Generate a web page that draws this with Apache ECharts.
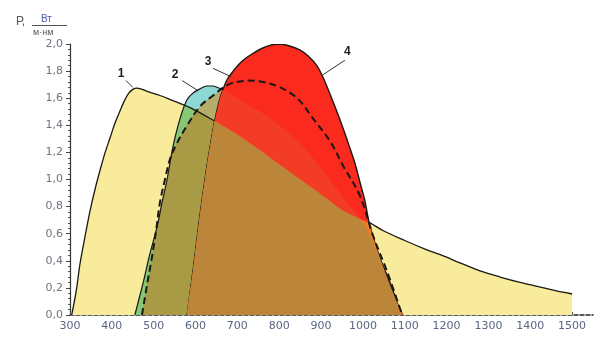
<!DOCTYPE html>
<html><head><meta charset="utf-8">
<script src="https://cdn.jsdelivr.net/npm/echarts@6/dist/echarts.min.js"></script>
<style>html,body{margin:0;padding:0;background:#fff}#c{width:608px;height:355px}</style>
</head><body><div id="c"></div>
<script>
// ---- data ----
const xTicks = [300,400,500,600,700,800,900,1000,1100,1200,1300,1400,1500];
const yTicks = [0,0.2,0.4,0.6,0.8,1.0,1.2,1.4,1.6,1.8,2.0];

// curve 1 (yellow)
const c1x = [304,315,324,336,348,360,372,384,396,408,420,430,440,450,460,472,490,515,540,587,635,700,747,800,850,900,953,1000,1017,1050,1100,1150,1185,1232,1280,1328,1376,1424,1460,1500];
const c1y = [0,0.18,0.38,0.58,0.77,0.93,1.07,1.20,1.31,1.42,1.51,1.58,1.635,1.665,1.675,1.665,1.645,1.62,1.59,1.53,1.45,1.33,1.23,1.11,1.00,0.89,0.77,0.70,0.68,0.62,0.55,0.485,0.445,0.385,0.325,0.28,0.24,0.205,0.18,0.155];
// curve 2 (cyan)
const c2x = [455,465,475,490,508,520,532,541,551,565,580,595,611,626,642,660,680,720,760,800,850,900,950,1000,1040,1070,1089];
const c2y = [0,0.12,0.24,0.44,0.65,0.83,1.00,1.16,1.31,1.47,1.59,1.64,1.67,1.69,1.69,1.67,1.64,1.56,1.49,1.40,1.27,1.08,0.88,0.68,0.42,0.20,0];
// curve 3 (dashed)
const c3x = [472,484,496,506,515,527,539,556,580,611,642,678,723,761,802,843,881,922,953,993,1025,1058,1094];
const c3y = [0,0.22,0.43,0.63,0.83,1.00,1.15,1.27,1.40,1.54,1.62,1.70,1.73,1.72,1.68,1.60,1.45,1.28,1.10,0.88,0.58,0.32,0];
// curve 4 (red)
const c4x = [580,595,610,625,637,647,656,665,676,690,705,720,737,757,778,800,825,850,870,890,906,922,938,953,967,981,993,1005,1015,1030,1050,1072,1095];
const c4y = [0,0.35,0.72,1.05,1.28,1.45,1.57,1.66,1.74,1.80,1.855,1.895,1.93,1.965,1.99,2.0,1.985,1.955,1.91,1.84,1.745,1.625,1.50,1.375,1.25,1.12,0.98,0.84,0.68,0.52,0.34,0.16,0];

const curveNames = ['1','2','3','4'];

// ---- chart ----
const chart = echarts.init(document.getElementById('c'), null, {renderer:'canvas'});
const SM = 0.35;
const FAM = '"DejaVu Sans", sans-serif';
const FAM2 = '"Liberation Sans", Arial, sans-serif';

// annotation anchors in data space (text position, leader start, leader end)
const notes = [
  {t: curveNames[0], at:[422,1.78], from:[434,1.73], to:[450,1.68]},
  {t: curveNames[1], at:[551,1.77], from:[568,1.73], to:[604,1.66]},
  {t: curveNames[2], at:[630,1.87], from:[642,1.82], to:[684,1.76]},
  {t: curveNames[3], at:[963,1.94], from:[957,1.88], to:[903,1.77]}
];

function bbox(pts) {
  let x0=Infinity,y0=Infinity,x1=-Infinity,y1=-Infinity;
  pts.forEach(p => {x0=Math.min(x0,p[0]);y0=Math.min(y0,p[1]);x1=Math.max(x1,p[0]);y1=Math.max(y1,p[1]);});
  return [[x0,y0],[x1,y1]];
}

function renderAll(params, api) {
  const P = (xs, ys) => xs.map((x, i) => api.coord([x, ys[i]]));
  const yl = P(c1x, c1y);
  const ypoly = yl.concat([api.coord([c1x[c1x.length-1], 0])]);
  const bpoly = P(c2x, c2y);
  const p3 = P(c3x, c3y);
  const rpoly = P(c4x, c4y);
  const shp = (pts) => ({points:pts, smooth:SM, smoothConstraint:bbox(pts)});
  const poly = (pts, fill, extra) => Object.assign({type:'polygon', shape:shp(pts), style:{fill:fill, stroke:null}}, extra||{});
  const clip = (pts) => ({type:'polygon', shape:shp(pts)});
  const line = (pts, w, dash) => ({type:'polyline', shape:shp(pts), style:{fill:null, stroke:'#1b1714', lineWidth:w, lineDash:dash||null}});
  const ch = [];
  ch.push(poly(ypoly, '#f8eb9c'));
  ch.push(poly(bpoly, '#8cd8d4'));
  ch.push(poly(bpoly, '#86c873', {clipPath: clip(ypoly)}));
  ch.push(poly(p3, '#b4ad6c', {clipPath: clip(bpoly)}));
  ch.push({type:'group', clipPath: clip(ypoly), children:[poly(p3, '#a99a46', {clipPath: clip(bpoly)})]});
  ch.push(line(yl, 1.3));
  ch.push(line(bpoly, 1.2));
  ch.push(poly(rpoly, '#fb2a1e'));
  ch.push(line(rpoly, 1.4));
  ch.push(poly(rpoly, '#f23c26', {clipPath: clip(bpoly)}));
  ch.push(poly(rpoly, '#ef7a26', {clipPath: clip(ypoly)}));
  ch.push({type:'group', clipPath: clip(ypoly), children:[poly(rpoly, '#bb853a', {clipPath: clip(bpoly)})]});
  ch.push(line(p3, 2, [7,4]));
  notes.forEach(n => {
    const a = api.coord(n.at), f = api.coord(n.from), t = api.coord(n.to);
    ch.push({type:'line', shape:{x1:f[0], y1:f[1], x2:t[0], y2:t[1]}, style:{stroke:'#333', lineWidth:1}});
    ch.push({type:'text', x:a[0], y:a[1], style:{text:n.t, fill:'#1d1d1d', font:'bold 12px ' + FAM2, textAlign:'center', textVerticalAlign:'middle'}});
  });
  return {type:'group', children: ch};
}

chart.setOption({
  animation: false,
  backgroundColor: '#ffffff',
  grid: {left:70, right:15, top:44, bottom:40},
  xAxis: {
    type:'value', min:300, max:1550, interval:100,
    axisLine:{show:true, onZero:false, lineStyle:{color:'#222', width:1.5, type:[4,2]}},
    axisTick:{show:true, inside:true, length:3, customValues:xTicks, lineStyle:{color:'#555'}},
    axisLabel:{customValues:xTicks, color:'#5a6684', fontSize:11, fontFamily:FAM, margin:6, formatter: v => String(v)},
    splitLine:{show:false}
  },
  yAxis: {
    type:'value', min:0, max:2, interval:0.2,
    axisLine:{show:true, lineStyle:{color:'#333', width:1.2}},
    axisTick:{show:true, length:4, lineStyle:{color:'#444'}},
    minorTick:{show:true, splitNumber:5, length:2, lineStyle:{color:'#555'}},
    axisLabel:{color:'#70727e', fontSize:11, fontFamily:FAM, margin:7,
      formatter: v => v.toFixed(1).replace('.', ',')},
    splitLine:{show:false}
  },
  graphic: [
    {type:'text', left:16, top:16, style:{text:'Р,', fill:'#5a5a66', font:'12px ' + FAM2}},
    {type:'text', left:41, top:14, style:{text:'Вт', fill:'#4a62b0', font:'10px ' + FAM2}},
    {type:'line', shape:{x1:32, y1:25.5, x2:67, y2:25.5}, style:{stroke:'#555', lineWidth:1}},
    {type:'text', left:33, top:28, style:{text:'м·нм', fill:'#555', font:'9px ' + FAM2}}
  ],
  series: [{
    type:'custom', coordinateSystem:'cartesian2d', clip:true,
    data:[[300,0]], encode:{x:0, y:1},
    renderItem: renderAll, silent:true
  }]
});
</script></body></html>
